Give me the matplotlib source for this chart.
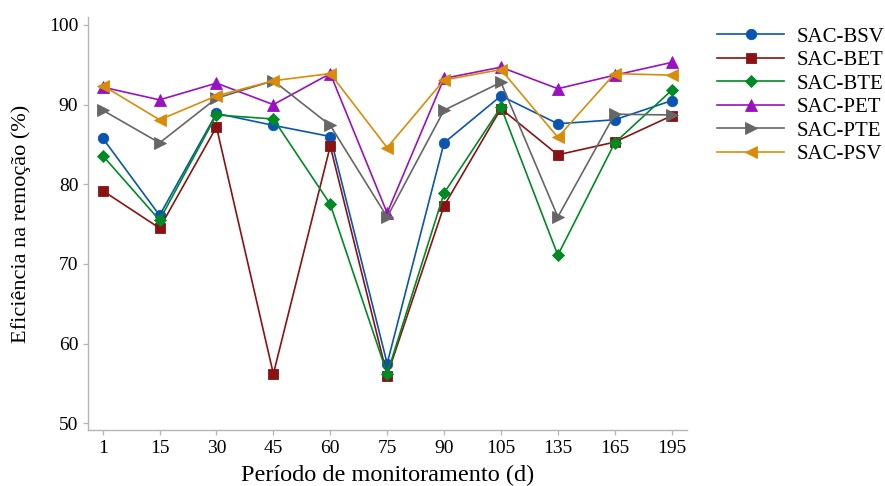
import matplotlib
matplotlib.use("Agg")
import matplotlib.pyplot as plt

plt.rcParams['font.family'] = ['Liberation Serif', 'DejaVu Serif']

dias = ["1", "15", "30", "45", "60", "75", "90", "105", "135", "165", "195"]

sac_bsv = [85.8, 76.1, 88.9, 87.4, 86.0, 57.5, 85.2, 91.1, 87.6, 88.1, 90.5]
sac_bet = [79.2, 74.5, 87.2, 56.2, 84.8, 56.0, 77.3, 89.5, 83.7, 85.3, 88.6]
sac_bte = [83.6, 75.5, 88.7, 88.2, 77.5, 56.2, 78.9, 89.7, 71.1, 85.2, 91.8]
sac_pet = [92.2, 90.6, 92.7, 90.0, 93.9, 76.4, 93.3, 94.7, 92.0, 93.7, 95.3]
sac_pte = [89.3, 85.2, 90.8, 93.0, 87.4, 75.9, 89.3, 92.8, 75.9, 88.8, 88.7]
sac_psv = [92.4, 88.1, 91.1, 93.0, 93.9, 84.6, 93.1, 94.4, 85.9, 93.9, 93.7]

series = [
    ("SAC-BSV", sac_bsv, "#0a55b0", "o", 7.5),
    ("SAC-BET", sac_bet, "#8b1214", "s", 7.0),
    ("SAC-BTE", sac_bte, "#008a25", "D", 6.5),
    ("SAC-PET", sac_pet, "#9912c0", "^", 8.5),
    ("SAC-PTE", sac_pte, "#666666", ">", 8.5),
    ("SAC-PSV", sac_psv, "#d98c0a", "<", 8.5),
]

fig = plt.figure(figsize=(8.85, 4.86), dpi=100)
ax = fig.add_axes([88 / 885, 1 - 430 / 486, 599 / 885, 413 / 486])

x = list(range(len(dias)))
for nome, vals, cor, mk, ms in series:
    ax.plot(x, vals, color=cor, marker=mk, markersize=ms, linewidth=1.2,
            markeredgewidth=0.6, label=nome)

ax.set_xlim(-0.258, 10.27)
ax.set_ylim(49.16, 101.0)
ax.set_xticks(x)
ax.set_xticklabels(dias)
ax.set_yticks([50, 60, 70, 80, 90, 100])

for s in ("top", "right"):
    ax.spines[s].set_visible(False)
for s in ("left", "bottom"):
    ax.spines[s].set_color("#b5b5b5")
    ax.spines[s].set_linewidth(1.0)

ax.tick_params(axis="both", direction="out", length=3.5, width=0.9,
               color="#b5b5b5", labelsize=14, pad=3.5)

ax.set_xlabel("Período de monitoramento (d)", fontsize=17.5, labelpad=6)
ax.set_ylabel("Eficiência na remoção (%)", fontsize=16)
ax.yaxis.set_label_coords(-0.095, 0.5)

fig.legend(loc="upper left", bbox_to_anchor=(717 / 885, 1 - 27 / 486),
           frameon=False, fontsize=15, handlelength=3.22,
           handletextpad=0.58, labelspacing=0.19, borderpad=0,
           borderaxespad=0)

fig.savefig("out.png", dpi=100)
